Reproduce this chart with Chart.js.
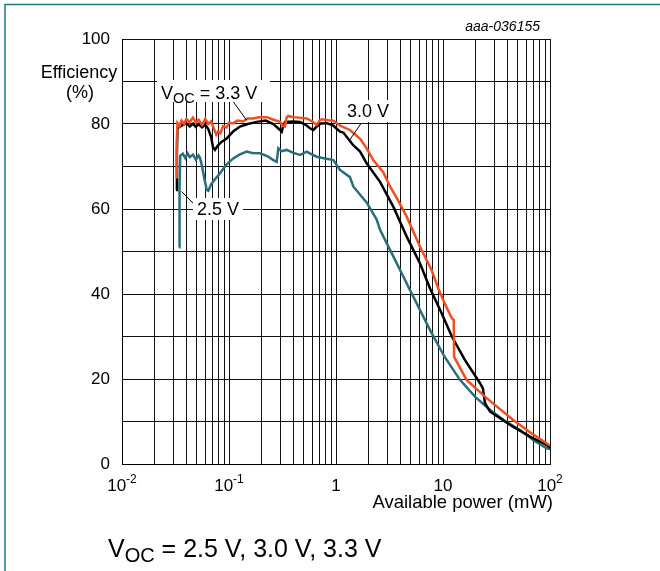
<!DOCTYPE html>
<html>
<head>
<meta charset="utf-8">
<script src="https://cdn.jsdelivr.net/npm/chart.js@4.4.1/dist/chart.umd.min.js"></script>
<style>
  html, body { margin: 0; padding: 0; background: #fff; }
  canvas { display: block; }
</style>
</head>
<body>
<canvas id="chartEff" width="660" height="571"></canvas>
<script>
// available power (mW) and efficiency (%) for each Voc
const power33 = [0.0320, 0.0325, 0.0330, 0.0345, 0.036, 0.038, 0.040, 0.043, 0.046, 0.049, 0.052, 0.056, 0.060, 0.064, 0.068, 0.072, 0.076, 0.079, 0.083, 0.088, 0.095, 0.10, 0.11, 0.12, 0.135, 0.15, 0.1675, 0.19, 0.2265, 0.26, 0.30, 0.32, 0.334, 0.345, 0.358, 0.40, 0.45, 0.532, 0.60, 0.66, 0.70, 0.735, 0.85, 0.944, 1.09, 1.35, 1.68, 1.94, 2.23, 2.77, 3.20, 3.69, 4.58, 6.10, 7.84, 9.04, 10.5, 12.1, 12.6, 12.7, 16.6, 25.6, 45, 70, 93, 100];
const eff33 = [67.5, 76, 80.2, 79.5, 80.8, 80, 81.2, 80.4, 81.5, 80.3, 81, 79.8, 81.2, 80, 80.6, 79, 77.5, 78.2, 77.8, 79.5, 79.2, 80.3, 80.2, 80.8, 80.6, 81.3, 81.3, 81.6, 81.6, 81, 80.5, 79.6, 79.4, 81.5, 81.9, 81.6, 81.5, 81.3, 80.6, 79.8, 80.8, 81.1, 80.9, 80.8, 79.6, 78.6, 76.5, 74.2, 71.5, 68.6, 65.3, 62.6, 58.2, 51.1, 45.6, 41.3, 37.5, 34.3, 33.9, 25.2, 19.8, 15.5, 10.4, 6.9, 4.9, 4.3];

const power30 = [0.0320, 0.0326, 0.0330, 0.036, 0.040, 0.043, 0.046, 0.049, 0.052, 0.056, 0.060, 0.064, 0.068, 0.071, 0.074, 0.078, 0.085, 0.0952, 0.11, 0.1267, 0.15, 0.1814, 0.22, 0.26, 0.30, 0.311, 0.32, 0.334, 0.40, 0.461, 0.52, 0.571, 0.614, 0.66, 0.72, 0.819, 0.944, 1.09, 1.17, 1.45, 1.68, 1.94, 2.58, 3.44, 4.58, 6.10, 7.03, 7.57, 9.5, 12.1, 16, 22.2, 23.6, 24.7, 27.6, 45, 70, 93, 100];
const eff30 = [64.5, 73, 79, 79.6, 80.2, 79.4, 80.1, 79.3, 80, 79.2, 79.8, 78.8, 77, 74.5, 73.9, 74.8, 75.8, 76.6, 78.3, 79.4, 80, 80.5, 80.8, 80, 78.6, 78.2, 79.5, 80.5, 80.6, 80.5, 79.8, 79, 78.6, 79.4, 80.1, 80.2, 79.6, 78.2, 78, 75, 73.5, 70.7, 66.4, 60.5, 53.5, 47.2, 43.3, 41.3, 36, 30, 24.5, 19, 17.8, 14.3, 12.3, 8.8, 6, 4.5, 3.8];

const power25 = [0.0341, 0.0345, 0.0350, 0.037, 0.039, 0.041, 0.043, 0.046, 0.049, 0.052, 0.0536, 0.056, 0.059, 0.0619, 0.0641, 0.068, 0.074, 0.0824, 0.095, 0.1097, 0.125, 0.1463, 0.165, 0.195, 0.23, 0.2596, 0.279, 0.289, 0.31, 0.346, 0.40, 0.461, 0.532, 0.60, 0.66, 0.75, 0.944, 1.09, 1.35, 1.45, 1.94, 2.40, 2.58, 3.44, 4.42, 4.74, 7.57, 10.3, 14.4, 20, 27.6, 38, 52.5, 70, 93, 100];
const eff25 = [51, 65, 72.5, 73, 72, 73.1, 72.2, 72.8, 71.6, 72.6, 72, 70, 67, 64.5, 64.3, 65.8, 67, 68.4, 70.5, 71.9, 72.8, 73.5, 73.2, 73.1, 72.4, 71.5, 71.1, 74.3, 73.6, 73.9, 73.2, 72.7, 73.5, 72.8, 72.3, 72, 71.5, 69.2, 67.5, 65.3, 61.5, 57.5, 55.1, 48.8, 43.3, 41.7, 31.5, 25.3, 19.8, 15.8, 12.7, 10.1, 8, 5.6, 3.7, 3.5];

// x grid: 1..9 per decade
const decades = [0.01, 0.1, 1, 10];
const xLabels = [
    [0.01, '10', '-2'],
    [0.1, '10', '-1'],
    [1, '1', ''],
    [10, '10', ''],
    [100, '10', '2']
];

const FONT = '"Liberation Sans", Arial, sans-serif';
const toPoints = (xs, ys) => xs.map((x, i) => ({x: x, y: ys[i]}));

// draw a run of text pieces [text, size, dy], returns end x
function drawParts(ctx, x, y, parts, align) {
    let total = 0;
    parts.forEach(p => {
        ctx.font = p[1] + 'px ' + FONT;
        total += ctx.measureText(p[0]).width;
    });
    let cx = align === 'center' ? x - total / 2 : x;
    ctx.textAlign = 'left';
    parts.forEach(p => {
        ctx.font = p[1] + 'px ' + FONT;
        ctx.fillText(p[0], cx, y + p[2]);
        cx += ctx.measureText(p[0]).width;
    });
    return cx;
}

const decorPlugin = {
    id: 'decor',
    afterDraw(chart) {
        const ctx = chart.ctx;
        const xs = chart.scales.x;
        const ys = chart.scales.y;
        ctx.save();
        ctx.fillStyle = '#000';
        ctx.textBaseline = 'alphabetic';

        // x tick labels with superscripts
        xLabels.forEach(l => {
            const px = xs.getPixelForValue(l[0]);
            const parts = [[l[1], 17, 0]];
            if (l[2]) parts.push([l[2], 12, -8]);
            drawParts(ctx, px, 491, parts, 'center');
        });

        // axis titles
        ctx.font = '18.5px ' + FONT;
        ctx.textAlign = 'right';
        ctx.fillText('Available power (mW)', 553, 508);
        ctx.font = '18px ' + FONT;
        ctx.textAlign = 'center';
        ctx.fillText('Efficiency', 79, 78);
        ctx.fillText('(%)', 80, 98);

        // figure id
        ctx.font = 'italic 14px ' + FONT;
        ctx.textAlign = 'right';
        ctx.fillText('aaa-036155', 540, 31);

        // leader lines (ends given in data units)
        const leaders = [
            [0.107, 85.6, 0.146, 80.9],
            [1.70, 80.0, 1.33, 76.1],
            [0.0361, 64.1, 0.0499, 60.5]
        ];
        ctx.strokeStyle = '#000';
        ctx.lineWidth = 1;
        leaders.forEach(l => {
            ctx.beginPath();
            ctx.moveTo(xs.getPixelForValue(l[0]), ys.getPixelForValue(l[1]));
            ctx.lineTo(xs.getPixelForValue(l[2]), ys.getPixelForValue(l[3]));
            ctx.stroke();
        });

        // label boxes
        ctx.fillStyle = '#fff';
        ctx.fillRect(157, 80, 113, 22);
        ctx.fillRect(342, 100, 52, 22);
        ctx.fillRect(193, 198, 50, 22);
        ctx.fillStyle = '#000';
        drawParts(ctx, 161, 99, [['V', 18, 0], ['OC', 14.5, 4], [' = 3.3 V', 18, 0]], 'left');
        drawParts(ctx, 347, 117, [['3.0 V', 18, 0]], 'left');
        drawParts(ctx, 197, 215, [['2.5 V', 18, 0]], 'left');

        // caption
        drawParts(ctx, 108, 557, [['V', 25, 0], ['OC', 20, 5], [' = 2.5 V, 3.0 V, 3.3 V', 25, 0]], 'left');

        // frame lines
        ctx.strokeStyle = 'rgb(30,120,132)';
        ctx.lineWidth = 1.5;
        ctx.beginPath();
        ctx.moveTo(5, 571);
        ctx.lineTo(5, 4.5);
        ctx.lineTo(660, 4.5);
        ctx.stroke();
        ctx.restore();
    }
};

const ctxEff = document.getElementById('chartEff');
const chartEff = new Chart(ctxEff, {
    type: 'line',
    data: {
        datasets: [{
            label: '3.3 V',
            data: toPoints(power33, eff33),
            borderColor: 'rgb(240,78,35)',
            borderWidth: 2.5
        }, {
            label: '3.0 V',
            data: toPoints(power30, eff30),
            borderColor: '#000',
            borderWidth: 2.5
        }, {
            label: '2.5 V',
            data: toPoints(power25, eff25),
            borderColor: 'rgb(42,110,122)',
            borderWidth: 2.5
        }]
    },
    options: {
        responsive: false,
        animation: false,
        elements: {
            point: { radius: 0 },
            line: { tension: 0 }
        },
        layout: {
            padding: { left: 0, right: 110, top: 39, bottom: 0 }
        },
        plugins: {
            legend: { display: false },
            tooltip: { enabled: false }
        },
        scales: {
            x: {
                type: 'logarithmic',
                min: 0.01,
                max: 100,
                afterBuildTicks: s => {
                    const t = [];
                    decades.forEach(d => {
                        for (let m = 1; m <= 9; m++) t.push({value: m * d});
                    });
                    t.push({value: 100});
                    s.ticks = t;
                },
                afterFit: s => { s.height = 107; },
                ticks: {
                    autoSkip: false,
                    callback: () => ''
                },
                grid: {
                    color: '#111',
                    lineWidth: 1,
                    drawTicks: false
                },
                border: { color: '#000', width: 1 }
            },
            y: {
                min: 0,
                max: 100,
                afterFit: s => { s.width = 122; },
                ticks: {
                    stepSize: 10,
                    autoSkip: false,
                    padding: 12,
                    color: '#000',
                    font: { family: FONT, size: 17 },
                    callback: v => (v % 20 === 0 ? v : '')
                },
                grid: {
                    color: '#111',
                    lineWidth: 1,
                    drawTicks: false
                },
                border: { color: '#000', width: 1 }
            }
        }
    },
    plugins: [decorPlugin]
});
</script>
</body>
</html>
